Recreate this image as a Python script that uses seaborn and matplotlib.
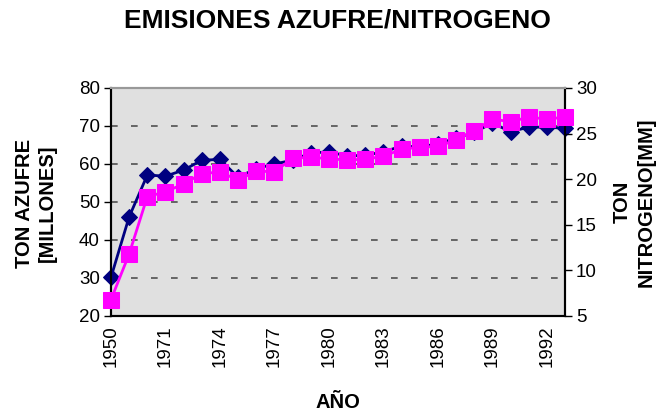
import pandas as pd
import matplotlib
matplotlib.use("Agg")
import matplotlib.pyplot as plt
import seaborn as sns

# Data
years = ["1950", "1960", "1970", "1971", "1972", "1973", "1974", "1975", "1976",
         "1977", "1978", "1979", "1980", "1981", "1982", "1983", "1984", "1985",
         "1986", "1987", "1988", "1989", "1990", "1991", "1992", "1993"]
azufre = [30.2, 46.1, 57.1, 56.8, 58.4, 61.0, 61.2, 56.5, 58.8, 60.0, 61.0, 62.9,
          63.2, 62.1, 62.3, 63.2, 64.7, 64.5, 65.3, 66.8, 68.3, 70.8, 68.5, 69.7,
          69.7, 69.4]
nitrogeno = [6.8, 11.8, 18.1, 18.6, 19.5, 20.6, 20.8, 19.9, 20.9, 20.8, 22.3, 22.4,
             22.25, 22.1, 22.2, 22.5, 23.3, 23.5, 23.6, 24.3, 25.3, 26.6, 26.3, 26.8,
             26.6, 26.8]

df = pd.DataFrame({"year": years, "azufre": azufre, "nitrogeno": nitrogeno})
df["pos"] = range(len(df))

sns.set_style("white")
plt.rcParams['font.family'] = ['Liberation Sans', 'DejaVu Sans']
plt.rcParams['text.color'] = 'black'
plt.rcParams['xtick.color'] = 'black'
plt.rcParams['ytick.color'] = 'black'

fig = plt.figure(figsize=(6.59, 4.18), dpi=100)
ax = fig.add_axes([111 / 659, 1 - 316 / 418, (565 - 111) / 659, (316 - 88) / 418])
ax.set_facecolor('#E0E0E0')

sns.lineplot(data=df, x="pos", y="azufre", ax=ax, color='#000080', linewidth=2,
             marker='D', markersize=8, markeredgecolor='#000080', clip_on=False,
             zorder=3)

ax2 = ax.twinx()
sns.lineplot(data=df, x="pos", y="nitrogeno", ax=ax2, color='#FF00FF', linewidth=2,
             marker='s', markersize=11, markeredgecolor='#FF00FF', clip_on=False,
             zorder=3)

ax.set_xlim(0, len(df) - 1)
ax.set_ylim(20, 80)
ax2.set_ylim(5, 30)
ax.set_yticks(range(20, 81, 10))
ax2.set_yticks(range(5, 31, 5))

ax.set_xticks(df["pos"])
ax.set_xticklabels([y if i % 3 == 0 else "" for i, y in enumerate(years)],
                   rotation=90, fontsize=13.5)
ax.tick_params(axis='x', direction='inout', length=8, width=1, pad=3)
ax.tick_params(axis='y', direction='out', length=5, width=1, labelsize=13.5, pad=3)
ax2.tick_params(axis='y', direction='out', length=5, width=1, labelsize=13.5, pad=3)

# dashed horizontal grid
ax.yaxis.grid(True, linestyle=(0, (4, 8)), color='#505050', linewidth=1.2)
ax.set_axisbelow(True)

for a in (ax, ax2):
    a.set_xlabel("")
    a.set_ylabel("")
    for side in ("left", "bottom", "right"):
        a.spines[side].set_color('black')
        a.spines[side].set_linewidth(1.5)
    a.spines['top'].set_color('#999999')
    a.spines['top'].set_linewidth(1.5)
ax2.set_zorder(ax.get_zorder() + 1)

fig.text(337 / 659, 1 - 20 / 418, "EMISIONES AZUFRE/NITROGENO", ha='center',
         va='center', fontsize=19, fontweight='bold')
fig.text(36 / 659, 1 - 203 / 418, "TON AZUFRE\n[MILLONES]", ha='center', va='center',
         rotation=90, fontsize=14.5, fontweight='bold', linespacing=1.2)
fig.text(634 / 659, 1 - 202 / 418, "TON\nNITROGENO[MM]", ha='center', va='center',
         rotation=90, fontsize=14.5, fontweight='bold', linespacing=1.3)
fig.text(338 / 659, 1 - 403 / 418, "AÑO", ha='center', va='center',
         fontsize=14.5, fontweight='bold')

fig.savefig("out.png", dpi=100)
